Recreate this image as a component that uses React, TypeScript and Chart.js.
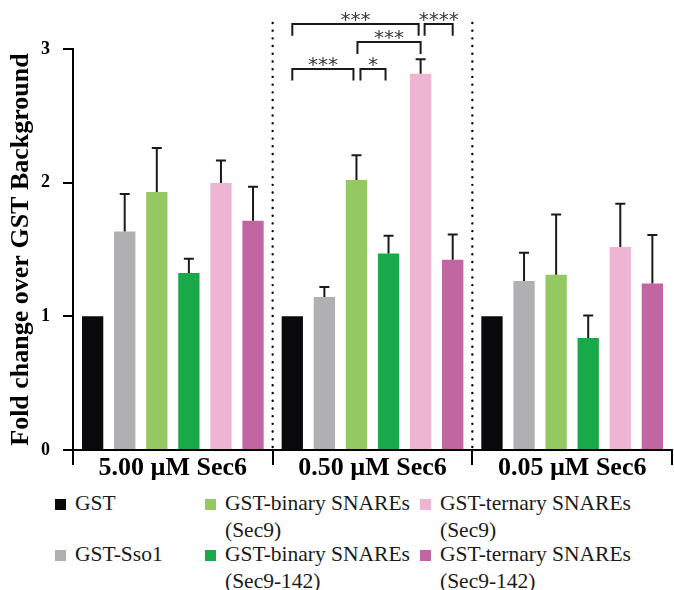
import React, { useEffect, useRef } from "react";
import { Chart, registerables } from "chart.js";

Chart.register(...registerables);

const SERIF = '"Liberation Serif", "Times New Roman", serif';

const categories = ["5.00 µM Sec6", "0.50 µM Sec6", "0.05 µM Sec6"];
const seriesNames = [
  "GST",
  "GST-Sso1",
  "GST-binary SNAREs (Sec9)",
  "GST-binary SNAREs (Sec9-142)",
  "GST-ternary SNAREs (Sec9)",
  "GST-ternary SNAREs (Sec9-142)",
];
const seriesColors = ["#0a0a0c", "#b0b0b2", "#94c862", "#19a94a", "#eeb5d3", "#c266a1"];

const gstValues = [1.0, 1.0, 1.0];
const gstErrors = [0, 0, 0];
const sso1Values = [1.635, 1.144, 1.264];
const sso1Errors = [0.28, 0.075, 0.212];
const binarySec9Values = [1.93, 2.02, 1.311];
const binarySec9Errors = [0.33, 0.185, 0.45];
const binarySec9142Values = [1.324, 1.47, 0.837];
const binarySec9142Errors = [0.106, 0.133, 0.169];
const ternarySec9Values = [1.998, 2.814, 1.518];
const ternarySec9Errors = [0.167, 0.11, 0.325];
const ternarySec9142Values = [1.715, 1.423, 1.246];
const ternarySec9142Errors = [0.255, 0.19, 0.362];

const yTickValues = [0, 1, 2, 3];
const yTitle = "Fold change over GST Background";

// significance brackets (group index, from series, to series, bar level, leg end, label)
const brackets = [
  { group: 1, from: 0, to: 2, level: 2.854, legEnd: 2.764, label: "***", insetL: 0, insetR: 3 },
  { group: 1, from: 2, to: 3, level: 2.854, legEnd: 2.764, label: "*", insetL: 4, insetR: 3 },
  { group: 1, from: 2, to: 4, level: 3.05, legEnd: 2.962, label: "***", insetL: 1, insetR: 0 },
  { group: 1, from: 0, to: 4, level: 3.19, legEnd: 3.1, label: "***", insetL: 0, insetR: 2 },
  { group: 1, from: 4, to: 5, level: 3.19, legEnd: 3.1, label: "****", insetL: 4, insetR: 0 },
];
const separatorTop = 3.22;

const valueSets = [gstValues, sso1Values, binarySec9Values, binarySec9142Values, ternarySec9Values, ternarySec9142Values];
const errorSets = [gstErrors, sso1Errors, binarySec9Errors, binarySec9142Errors, ternarySec9Errors, ternarySec9142Errors];

const errorBarPlugin = {
  id: "errorBars",
  afterDatasetsDraw(chart: any) {
    const ctx = chart.ctx;
    const y = chart.scales.y;
    ctx.save();
    ctx.strokeStyle = "#1a1a1a";
    ctx.lineWidth = 2;
    chart.data.datasets.forEach((ds: any, i: number) => {
      const meta = chart.getDatasetMeta(i);
      meta.data.forEach((bar: any, j: number) => {
        const err = errorSets[i][j];
        if (!err) return;
        const top = y.getPixelForValue(ds.data[j] + err);
        ctx.beginPath();
        ctx.moveTo(bar.x, bar.y);
        ctx.lineTo(bar.x, top);
        ctx.moveTo(bar.x - 5, top);
        ctx.lineTo(bar.x + 5, top);
        ctx.stroke();
      });
    });
    ctx.restore();
  },
};

const separatorPlugin = {
  id: "separators",
  afterDatasetsDraw(chart: any) {
    const ctx = chart.ctx;
    const x = chart.scales.x;
    const y = chart.scales.y;
    ctx.save();
    ctx.strokeStyle = "#000";
    ctx.lineWidth = 2.4;
    ctx.lineCap = "round";
    ctx.setLineDash([0.01, 7.7]);
    for (let i = 0; i < categories.length - 1; i++) {
      const px = (x.getPixelForValue(i) + x.getPixelForValue(i + 1)) / 2;
      ctx.beginPath();
      ctx.moveTo(px, y.getPixelForValue(0) - 3);
      ctx.lineTo(px, y.getPixelForValue(separatorTop));
      ctx.stroke();
    }
    ctx.restore();
  },
};

const bracketPlugin = {
  id: "brackets",
  afterDraw(chart: any) {
    const ctx = chart.ctx;
    const y = chart.scales.y;
    ctx.save();
    ctx.strokeStyle = "#1a1a1a";
    ctx.lineWidth = 2;
    ctx.font = '20px "DejaVu Sans"';
    ctx.fillStyle = "#3a3a3a";
    ctx.textAlign = "center";
    ctx.textBaseline = "alphabetic";
    brackets.forEach((b) => {
      const x1 = chart.getDatasetMeta(b.from).data[b.group].x + b.insetL;
      const x2 = chart.getDatasetMeta(b.to).data[b.group].x - b.insetR;
      const yl = Math.round(y.getPixelForValue(b.level));
      const yb = y.getPixelForValue(b.legEnd);
      ctx.beginPath();
      ctx.moveTo(x1, yb);
      ctx.lineTo(x1, yl);
      ctx.lineTo(x2, yl);
      ctx.lineTo(x2, yb);
      ctx.stroke();
      const m = ctx.measureText(b.label);
      const baseline = yl - 3 - m.actualBoundingBoxDescent;
      ctx.fillText(b.label, (x1 + x2) / 2, baseline);
    });
    ctx.restore();
  },
};

export default function App() {
  const ref = useRef<HTMLCanvasElement>(null);
  useEffect(() => {
    const canvas = ref.current!;
    const chart = new Chart(canvas, {
      type: "bar",
      data: {
        labels: categories,
        datasets: seriesNames.map((name, i) => ({
          label: name,
          data: valueSets[i],
          backgroundColor: seriesColors[i],
          borderWidth: 0,
          categoryPercentage: 0.964,
          barPercentage: 0.664,
        })),
      },
      options: {
        responsive: false,
        animation: false,
        layout: { padding: { top: 49, right: 2, left: 0, bottom: 0 } },
        plugins: { legend: { display: false }, tooltip: { enabled: false } },
        scales: {
          x: {
            grid: { offset: true, drawOnChartArea: false, tickLength: 15, color: "#000", lineWidth: 2 },
            border: { color: "#000", width: 2 },
            ticks: {
              color: "#000",
              font: { family: SERIF, size: 26, weight: "bold" },
              padding: -12,
              maxRotation: 0,
              autoSkip: false,
            },
            afterFit: (s: any) => {
              s.height = 40;
            },
          },
          y: {
            min: 0,
            max: 3,
            afterBuildTicks: (s: any) => {
              s.ticks = yTickValues.map((v) => ({ value: v }));
            },
            ticks: { color: "#000", font: { family: SERIF, size: 18, weight: "bold" }, padding: 13 },
            grid: { drawOnChartArea: false, tickLength: 10, color: "#000", lineWidth: 2 },
            border: { color: "#000", width: 2 },
            title: {
              display: true,
              text: yTitle,
              color: "#000",
              font: { family: SERIF, size: 26, weight: "bold" },
              padding: { top: 6, bottom: 0 },
            },
            afterFit: (s: any) => {
              s.width = 73;
            },
          },
        },
      } as any,
      plugins: [separatorPlugin, errorBarPlugin, bracketPlugin],
    });
    return () => chart.destroy();
  }, []);

  return (
    <div style={{ position: "absolute", left: 0, top: 0, width: 674, height: 590, background: "#fff" }}>
      <canvas ref={ref} width={674} height={490} style={{ display: "block" }} />
      <div
        style={{
          position: "absolute",
          left: 55,
          top: 490,
          display: "grid",
          gridTemplateColumns: "150px 215px auto",
          gridTemplateRows: "51px 51px",
          gridAutoFlow: "column",
          fontFamily: SERIF,
          fontSize: 21.5,
          lineHeight: "26.5px",
          color: "#1a1a1a",
          whiteSpace: "nowrap",
        }}
      >
        {seriesNames.map((name, i) => (
          <div key={name} style={{ display: "flex", alignItems: "flex-start" }}>
            <span
              style={{
                display: "inline-block",
                width: 11,
                height: 11,
                marginTop: 9,
                marginRight: 9,
                background: seriesColors[i],
                flex: "none",
              }}
            />
            <span style={{ whiteSpace: "pre" }}>{name.replace(" (", "\n(")}</span>
          </div>
        ))}
      </div>
    </div>
  );
}
